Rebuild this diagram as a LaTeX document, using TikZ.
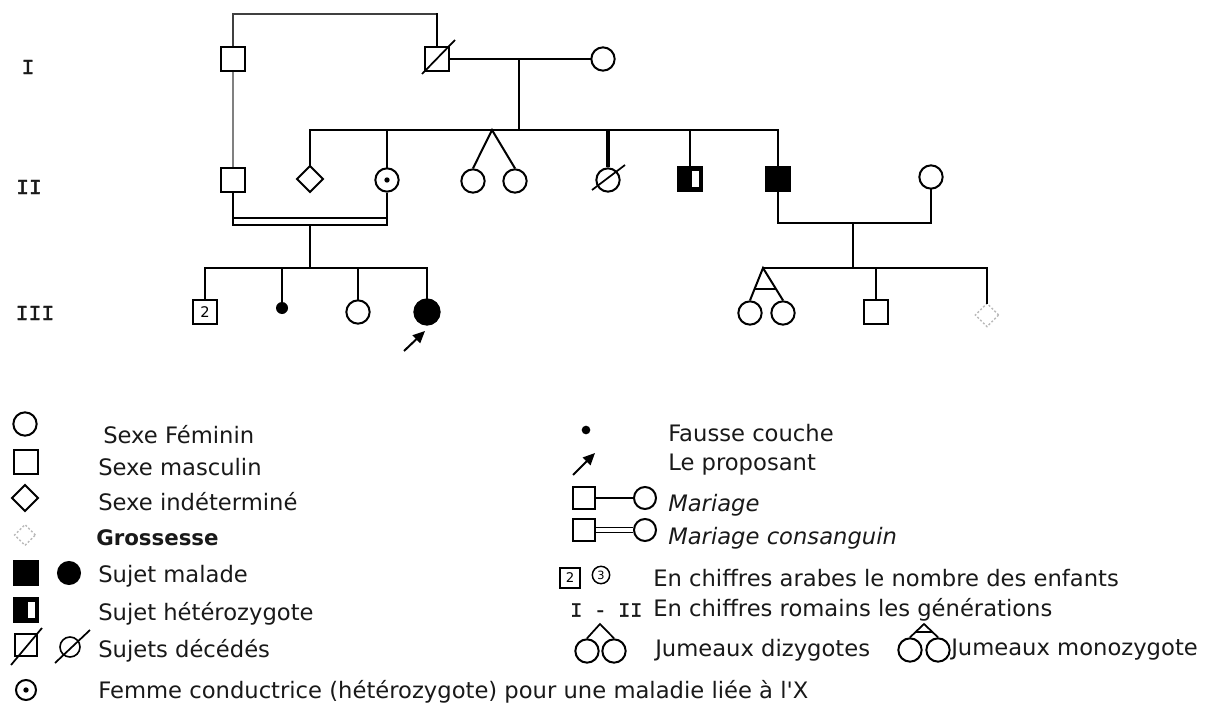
\documentclass[tikz,border=0pt]{standalone}
\usepackage{fontspec}
\newfontfamily\legfont{DejaVu Sans}
\newfontfamily\genfont[FakeBold=1.6]{Liberation Mono}
\usetikzlibrary{shapes.geometric,arrows.meta,calc}
\begin{document}
\begin{tikzpicture}[x=0.75pt,y=-0.75pt,
  ped/.style={line width=2pt, line cap=rect},
  pedthin/.style={line width=1.5pt},
  male/.style={draw, rectangle, minimum size=17.5pt, inner sep=0pt, line width=1.7pt},
  female/.style={draw, circle, minimum size=17.5pt, inner sep=0pt, line width=1.5pt},
  unknown/.style={draw, diamond, minimum size=20pt, inner sep=0pt, line width=1.5pt},
  pregn/.style={draw=gray!55, diamond, minimum size=18pt, inner sep=0pt, line width=1.1pt, dash pattern=on 1.5pt off 1.5pt},
  affected/.style={fill=black},
  hetero/.style={fill=black, path picture={\fill[white] ([xshift=1.6pt,yshift=-6pt]path picture bounding box.center) rectangle ([xshift=6.4pt,yshift=6pt]path picture bounding box.center);}},
  carrier/.style={path picture={\fill ([xshift=0pt]path picture bounding box.center) circle (2pt);}},
  misc/.style={circle, fill=black, minimum size=9pt, inner sep=0pt},
  lbl/.style={anchor=west, inner sep=0pt, font=\legfont\fontsize{17}{20}\selectfont, text=black!90},
  gen/.style={font=\genfont\fontsize{16}{19}\selectfont, inner sep=0pt, text=black!90},
  slash/.style={line width=1.3pt},
  prop/.style={line width=1.5pt, -{Triangle[length=9pt,width=8pt]}}
]
\useasboundingbox (0,0) rectangle (1206,713);

% generation labels
\node[gen] (gI) at (28,67) {I};
\node[gen] (gII) at (29,187) {II};
\node[gen] (gIII) at (35,313) {III};

% ---------- Generation I
\node[male] (I1) at (233,59) {};
\node[male] (I2) at (437,59) {};
\node[female] (I3) at (603,59) {};
\coordinate (top) at (335,14);
\draw[line width=1.6pt, black!75] (I1.north) |- (top) -- (I2.north |- top);
\draw[ped] (I2.north |- top) -- (I2.north);
\draw[slash] ($(I2.center)+(-15,15)$) -- ($(I2.center)+(18,-19)$);
\draw[ped] (I2.east) -- (I3.west);
\coordinate (cI) at (519,59);
\coordinate (sibII) at (519,130);
\draw[ped] (cI) -- (sibII);

% ---------- Generation II
\node[male] (II1) at (233,180) {};
\node[unknown] (II2) at (310,179) {};
\node[female, carrier] (II3) at (387,180) {};
\node[female] (II4) at (473,181) {};
\node[female] (II5) at (515,181) {};
\node[female] (II6) at (608,180) {};
\node[male, hetero] (II7) at (690,179) {};
\node[male, affected] (II8) at (778,179) {};
\node[female] (II9) at (931,177) {};
\draw[slash] ($(II6.center)+(-16,10)$) -- ($(II6.center)+(17,-15)$);

\draw[gray, line width=1.2pt] (I1.south) -- (II1.north);
\draw[ped] (II2.north) -- (II2.north |- sibII) -- (II8.north |- sibII) -- (II8.north);
\draw[ped] (II3.north) -- (II3.north |- sibII);
\draw[line width=2.6pt] (II6.north) -- (II6.north |- sibII);
\draw[ped] (II7.north) -- (II7.north |- sibII);
\coordinate (twII) at (492,130);
\draw[pedthin] (II4.north) -- (twII) -- (II5.north);

% consanguineous marriage
\coordinate (cons) at (310,225);
\coordinate (consb) at (310,218);
\draw[pedthin] (II1.south) -- (II1.south |- cons) -- (II3.south |- cons) -- (II3.south);
\draw[pedthin] (II1.south |- consb) -- (II3.south |- consb);
\coordinate (sibIIIa) at (310,268);
\draw[ped] (cons) -- (sibIIIa);

% marriage II8 x II9
\coordinate (mII) at (853,223);
\draw[ped] (II8.south) |- (mII) -| (II9.south);
\coordinate (sibIIIb) at (853,268);
\draw[ped] (mII) -- (sibIIIb);

% ---------- Generation III (left)
\node[male, minimum size=18pt, font=\legfont\fontsize{11}{11}\selectfont] (III1) at (205,312) {2};
\node[misc] (III2) at (282,308) {};
\node[female] (III3) at (358,312) {};
\node[female, affected, minimum size=19pt] (III4) at (427,312) {};
\draw[ped] (III1.north) |- (sibIIIa) -| (III4.north);
\draw[ped] (III2) -- (III2 |- sibIIIa);
\draw[ped] (III3.north) -- (III3.north |- sibIIIa);
\coordinate (arrS) at (404,351);
\coordinate (arrT) at (425,331);
\draw[prop] (arrS) -- (arrT);

% ---------- Generation III (right)
\node[female] (III5) at (750,313) {};
\node[female] (III6) at (783,313) {};
\node[male, minimum size=18.5pt] (III7) at (876,312) {};
\node[pregn] (III8) at (987,315) {};
\coordinate (twIII) at (763,268);
\draw[ped] (twIII) -- (III8.north |- twIII) -- (III8.north);
\draw[ped] (III7.north) -- (III7.north |- twIII);
\draw[pedthin] (III5.north) -- (twIII) -- (III6.north);
\draw[pedthin] ($(twIII)!0.66!(III5.north)$) -- ($(twIII)!0.66!(III6.north)$);

% ---------- Legend, left column
\node[female] (Lf) at (25,424) {};
\node[lbl] (tf) at (103,435) {Sexe Féminin};
\node[male, minimum size=18pt] (Lm) at (26,462) {};
\node[lbl] (tm) at (98,467) {Sexe masculin};
\node[unknown] (Lu) at (25,498) {};
\node[lbl] (tu) at (98,502) {Sexe indéterminé};
\node[pregn, minimum size=16pt] (Lg) at (25,535) {};
\node[lbl, font=\legfont\bfseries\fontsize{16}{19}\selectfont] (tg) at (96,538) {Grossesse};
\node[male, affected, minimum size=18pt] (Lam) at (26,573) {};
\node[female, affected, minimum size=16.5pt] (Laf) at (69,573) {};
\node[lbl] (ta) at (98,576) {Sujet malade};
\node[male, hetero, minimum size=18pt] (Lh) at (26,610) {};
\node[lbl] (th) at (98,614) {Sujet hétérozygote};
\node[male, minimum size=16.5pt] (Ldm) at (26,645) {};
\draw[slash] ($(Ldm.center)+(-15,20)$) -- ($(Ldm.center)+(16,-17)$);
\node[female, minimum size=15pt, line width=1.2pt] (Ldf) at (70,647) {};
\draw[slash] ($(Ldf.center)+(-15,16)$) -- ($(Ldf.center)+(20,-17)$);
\node[lbl] (td) at (98,651) {Sujets décédés};
\node[female, carrier, minimum size=15pt] (Lc) at (26,690) {};
\node[lbl] (tc) at (98,692) {Femme conductrice (hétérozygote) pour une maladie liée à l'X};

% ---------- Legend, right column
\node[misc, minimum size=6.5pt] (Lfc) at (586,430) {};
\node[lbl] (tfc) at (668,433) {Fausse couche};
\coordinate (LarS) at (573,475);
\coordinate (LarT) at (595,453);
\draw[prop] (LarS) -- (LarT);
\node[lbl] (tp) at (668,465) {Le proposant};
\node[male, minimum size=16.5pt] (Lma) at (584,498) {};
\node[female, minimum size=16.5pt] (Lmb) at (645,498) {};
\draw[pedthin] (Lma.east) -- (Lmb.west);
\node[lbl, font=\legfont\itshape\fontsize{17}{20}\selectfont] (tma) at (668,505) {Mariage};
\node[male, minimum size=16.5pt] (Lca) at (584,530) {};
\node[female, minimum size=16.5pt] (Lcb) at (645,530) {};
\draw[line width=1pt, double distance=2.4pt] (Lca.east) -- (Lcb.west);
\node[lbl, font=\legfont\itshape\fontsize{17}{20}\selectfont] (tca) at (668,538) {Mariage consanguin};
\node[male, minimum size=15pt, line width=1.6pt, font=\legfont\fontsize{10}{10}\selectfont] (L2) at (570,578) {2};
\node[female, minimum size=13pt, line width=1.1pt, font=\legfont\fontsize{8.5}{8.5}\selectfont] (L3) at (601,575) {3};
\node[lbl] (tar) at (653,578) {En chiffres arabes le nombre des enfants};
\node[gen, anchor=west, font=\genfont\fontsize{15}{17}\selectfont] (Lrom) at (570,610) {I - II};
\node[lbl] (tro) at (653,610) {En chiffres romains les générations};
% dizygotic twins
\node[female] (Ldz1) at (587,651) {};
\node[female] (Ldz2) at (614,651) {};
\coordinate (Ldza) at (600,624);
\draw[line width=1.3pt] (Ldz1.north) -- (Ldza) -- (Ldz2.north);
\node[lbl] (tdz) at (655,650) {Jumeaux dizygotes};
% monozygotic twins
\node[female] (Lmz1) at (910,650) {};
\node[female] (Lmz2) at (938,650) {};
\coordinate (Lmza) at (924,624);
\draw[line width=1.3pt] (Lmz1.north) -- (Lmza) -- (Lmz2.north);
\draw[line width=1.3pt] ($(Lmza)!0.6!(Lmz1.north)$) -- ($(Lmza)!0.6!(Lmz2.north)$);
\node[lbl] (tmz) at (951,650) {Jumeaux monozygote};
\end{tikzpicture}
\end{document}
